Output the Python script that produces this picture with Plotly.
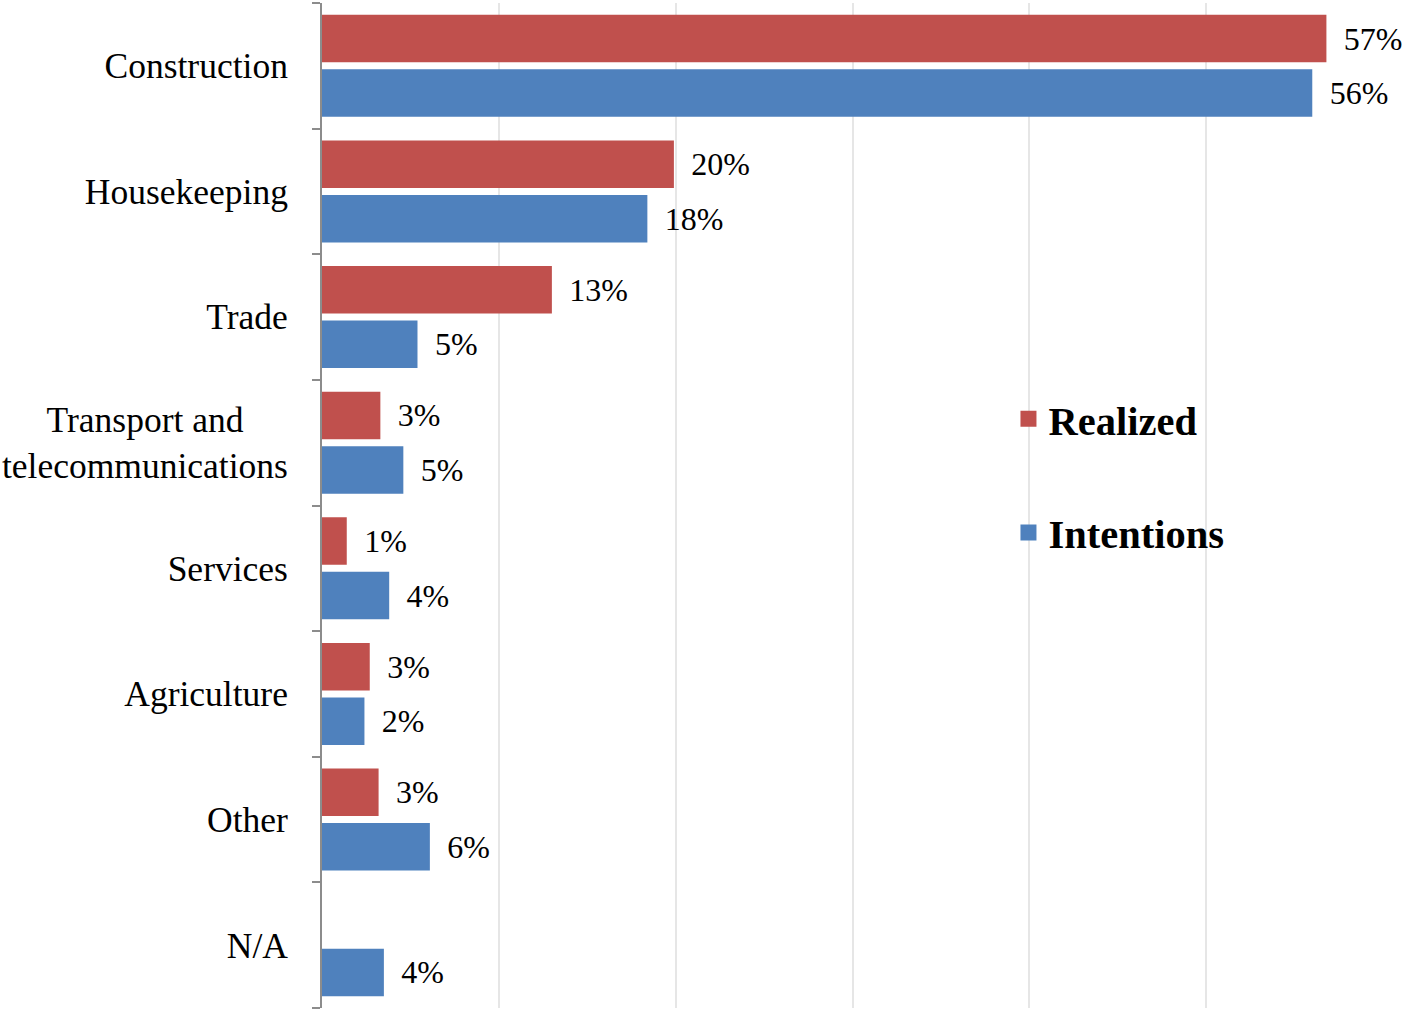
import plotly.graph_objects as go

# Sectors of employment, top to bottom
categories = [
    "Construction",
    "Housekeeping",
    "Trade",
    "Transport and<br>telecommunications",
    "Services",
    "Agriculture",
    "Other",
    "N/A",
]

# Shares in percent
realized = [56.8, 19.9, 13.0, 3.3, 1.4, 2.7, 3.2, None]
intentions = [56.0, 18.4, 5.4, 4.6, 3.8, 2.4, 6.1, 3.5]

RED = "#C0504D"
BLUE = "#4F81BD"
SERIF = "Liberation Serif, Times New Roman, serif"

# centre the first line of the two-line label over the second one
ticktext = [c.replace("and<br>", "and" + "\u00a0" * 5 + "<br>") for c in categories]

fig = go.Figure()
for name, vals, color in (("Realized", realized, RED), ("Intentions", intentions, BLUE)):
    fig.add_trace(go.Bar(
        y=categories, x=vals, name=name, orientation="h",
        marker=dict(color=color, line=dict(width=0)),
        texttemplate="\u00a0\u2009%{x:.0f}%", textposition="outside",
        textfont=dict(family=SERIF, size=32, color="#000000"),
        cliponaxis=False, showlegend=False,
    ))

# legend entries with larger square swatches
for name, color in (("Realized", RED), ("Intentions", BLUE)):
    fig.add_trace(go.Scatter(
        x=[None], y=[None], mode="markers", name=name, legendgroup=name,
        marker=dict(symbol="square", size=23, color=color),
        showlegend=True,
    ))

fig.update_layout(
    width=1403, height=1011,
    margin=dict(l=322, r=20, t=3, b=3),
    paper_bgcolor="white", plot_bgcolor="white",
    barmode="group", bargap=0.133, bargroupgap=0.128,
    font=dict(family=SERIF, color="#000000"),
    showlegend=True,
    legend=dict(
        x=0.647, y=0.619, xanchor="left", yanchor="top",
        font=dict(family=SERIF, size=40.5, color="#000000", weight="bold"),
        tracegroupgap=58, traceorder="grouped", itemwidth=30,
        bgcolor="rgba(0,0,0,0)",
    ),
    xaxis=dict(
        range=[0, 60], dtick=10, showticklabels=False,
        showgrid=True, gridcolor="#E6E6E6", gridwidth=1.5,
        zeroline=False, showline=False, ticks="",
    ),
    yaxis=dict(
        autorange="reversed", categoryorder="array", categoryarray=categories,
        tickmode="array", tickvals=categories, ticktext=ticktext,
        showline=True, linecolor="#8C8C8C", linewidth=2,
        ticks="outside", ticklen=8, tickcolor="#8C8C8C", tickwidth=2,
        tickson="boundaries", showgrid=False,
        tickfont=dict(family=SERIF, size=35.5, color="#000000"),
        ticklabelstandoff=25,
    ),
)

fig.write_html("out.html")
